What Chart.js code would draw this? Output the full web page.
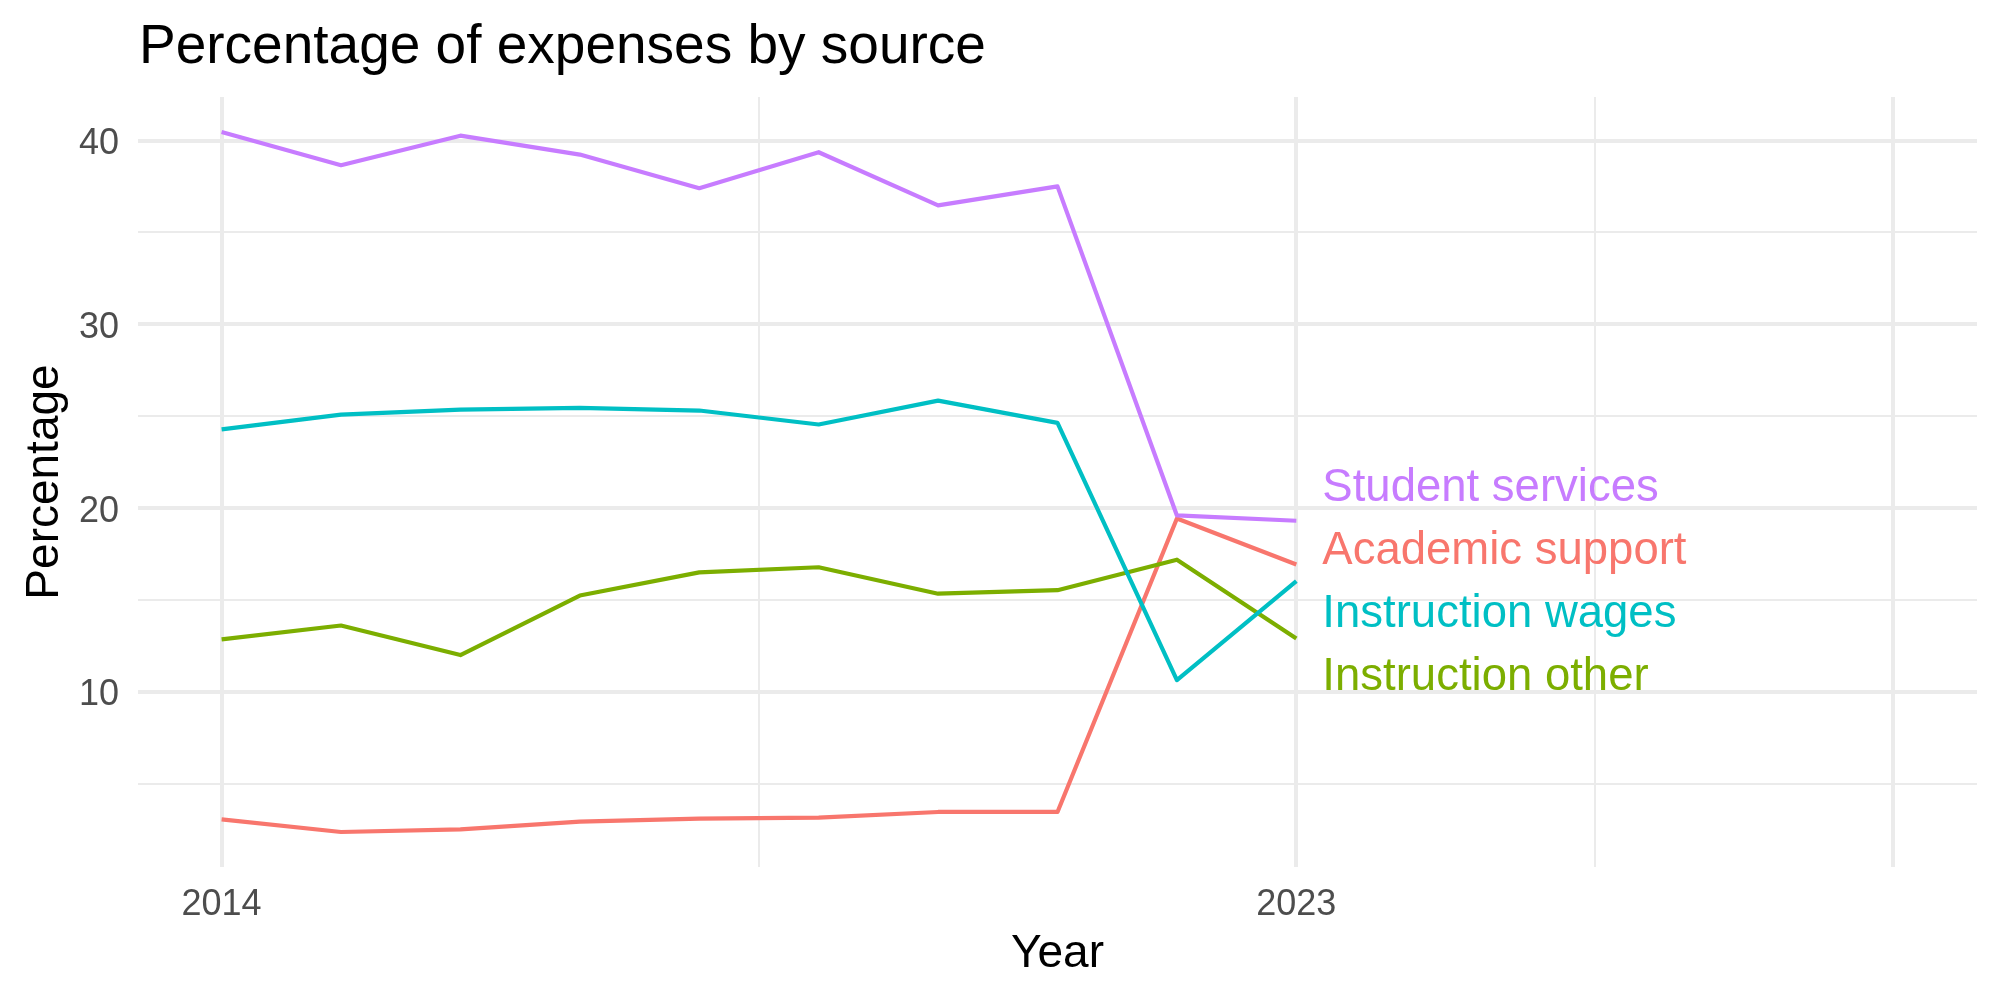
<!DOCTYPE html>
<html>
<head>
<meta charset="utf-8">
<title>Percentage of expenses by source</title>
<script src="https://cdn.jsdelivr.net/npm/chart.js@4.4.1/dist/chart.umd.min.js"></script>
<style>
  html, body { margin: 0; padding: 0; background: #ffffff; }
  #wrap { position: relative; width: 2000px; height: 1000px; }
</style>
</head>
<body>
<div id="wrap"><canvas id="expensesChart"></canvas></div>
<script>
// Data
const years = [2014, 2015, 2016, 2017, 2018, 2019, 2020, 2021, 2022, 2023];
const academicSupport = [3.06, 2.37, 2.51, 2.93, 3.1, 3.15, 3.46, 3.46, 19.43, 16.93];
const instructionOther = [12.85, 13.61, 12.0, 15.24, 16.5, 16.78, 15.34, 15.53, 17.19, 12.9];
const instructionWages = [24.28, 25.09, 25.36, 25.45, 25.31, 24.55, 25.85, 24.64, 10.64, 16.02];
const studentServices = [40.47, 38.66, 40.27, 39.24, 37.41, 39.37, 36.48, 37.51, 19.6, 19.31];
const seriesNames = ["Academic support", "Instruction other", "Instruction wages", "Student services"];

const xBreaks = [2014, 2023, 2028];
const xLabels = ["2014", "2023", ""];
const xMinorBreaks = [2018.5, 2025.5];
const yBreaks = [10, 20, 30, 40];
const yLabels = ["10", "20", "30", "40"];
const yMinorBreaks = [5, 15, 25, 35];

(function () {
  "use strict";

  const FONT = "'Liberation Sans', Arial, Helvetica, sans-serif";
  const colors = ["#F8766D", "#7CAE00", "#00BFC4", "#C77CFF"];
  const seriesValues = [academicSupport, instructionOther, instructionWages, studentServices];

  // ggplot-like 5% expansion of the data ranges
  const allValues = seriesValues.flat();
  const yLo = Math.min(...allValues);
  const yHi = Math.max(...allValues);
  const yPad = (yHi - yLo) * 0.05;
  const xLo = Math.min(...xBreaks, ...years);
  const xHi = Math.max(...xBreaks, ...years);
  const xPad = (xHi - xLo) * 0.05;

  // Chart.js paints dataset 0 last, so reverse to keep ggplot's stacking
  const datasets = seriesValues
    .map((vals, i) => ({
      label: seriesNames[i],
      data: years.map((yr, k) => ({ x: yr, y: vals[k] })),
      borderColor: colors[i],
      backgroundColor: colors[i],
      borderWidth: 4.2,
      pointRadius: 0,
      tension: 0,
      fill: false,
      borderJoinStyle: "round",
    }))
    .reverse();

  const textPlugin = {
    id: "ggText",
    afterDraw(chart) {
      const { ctx, chartArea: area } = chart;
      const xs = chart.scales.x;
      const ys = chart.scales.y;
      ctx.save();
      ctx.textBaseline = "alphabetic";

      // title
      ctx.fillStyle = "#000000";
      ctx.font = "55px " + FONT;
      ctx.textAlign = "left";
      ctx.fillText("Percentage of expenses by source", area.left + 1, 63);

      // y tick labels
      ctx.fillStyle = "#4D4D4D";
      ctx.font = "36px " + FONT;
      ctx.textAlign = "right";
      yBreaks.forEach((v, i) => {
        ctx.fillText(yLabels[i], 119, ys.getPixelForValue(v) + 13.5);
      });

      // x tick labels
      ctx.textAlign = "center";
      xBreaks.forEach((v, i) => {
        if (xLabels[i]) ctx.fillText(xLabels[i], xs.getPixelForValue(v), 915);
      });

      // axis titles
      ctx.fillStyle = "#000000";
      ctx.font = "46px " + FONT;
      ctx.fillText("Year", (area.left + area.right) / 2, 967);
      ctx.save();
      ctx.translate(58, (area.top + area.bottom) / 2);
      ctx.rotate(-Math.PI / 2);
      ctx.fillText("Percentage", 0, 0);
      ctx.restore();

      // direct labels at the line ends, spread apart like ggrepel
      const lastYear = years[years.length - 1];
      const ends = seriesValues
        .map((vals, i) => ({ i, py: ys.getPixelForValue(vals[vals.length - 1]) }))
        .sort((a, b) => a.py - b.py);
      const mean = ends.reduce((s, e) => s + e.py, 0) / ends.length;
      const gap = 63;
      ctx.font = "45.5px " + FONT;
      ctx.textAlign = "left";
      ends.forEach((e, k) => {
        const cy = mean + 3 + (k - (ends.length - 1) / 2) * gap;
        ctx.fillStyle = colors[e.i];
        ctx.fillText(seriesNames[e.i], xs.getPixelForValue(lastYear) + 26, cy + 16.5);
      });

      ctx.restore();
    },
  };

  const ctx = document.getElementById("expensesChart");
  new Chart(ctx, {
    type: "line",
    data: { datasets },
    options: {
      responsive: true,
      maintainAspectRatio: false,
      animation: false,
      layout: { padding: { top: 97, right: 23, left: 0, bottom: 0 } },
      plugins: {
        legend: { display: false },
        title: { display: false },
        tooltip: { enabled: false },
      },
      scales: {
        x: {
          type: "linear",
          min: xLo - xPad,
          max: xHi + xPad,
          afterBuildTicks: (scale) => {
            scale.ticks = [...xBreaks, ...xMinorBreaks].sort((a, b) => a - b).map((v) => ({ value: v }));
          },
          afterFit: (scale) => { scale.height = 133; },
          ticks: { display: false },
          border: { display: false },
          grid: {
            color: "#EBEBEB",
            drawTicks: false,
            lineWidth: (c) => (c.tick && xBreaks.includes(c.tick.value) ? 4 : 2),
          },
        },
        y: {
          type: "linear",
          min: yLo - yPad,
          max: yHi + yPad,
          afterBuildTicks: (scale) => {
            scale.ticks = [...yBreaks, ...yMinorBreaks].sort((a, b) => a - b).map((v) => ({ value: v }));
          },
          afterFit: (scale) => { scale.width = 138; },
          ticks: { display: false },
          border: { display: false },
          grid: {
            color: "#EBEBEB",
            drawTicks: false,
            lineWidth: (c) => (c.tick && yBreaks.includes(c.tick.value) ? 4 : 2),
          },
        },
      },
    },
    plugins: [textPlugin],
  });
})();
</script>
</body>
</html>
